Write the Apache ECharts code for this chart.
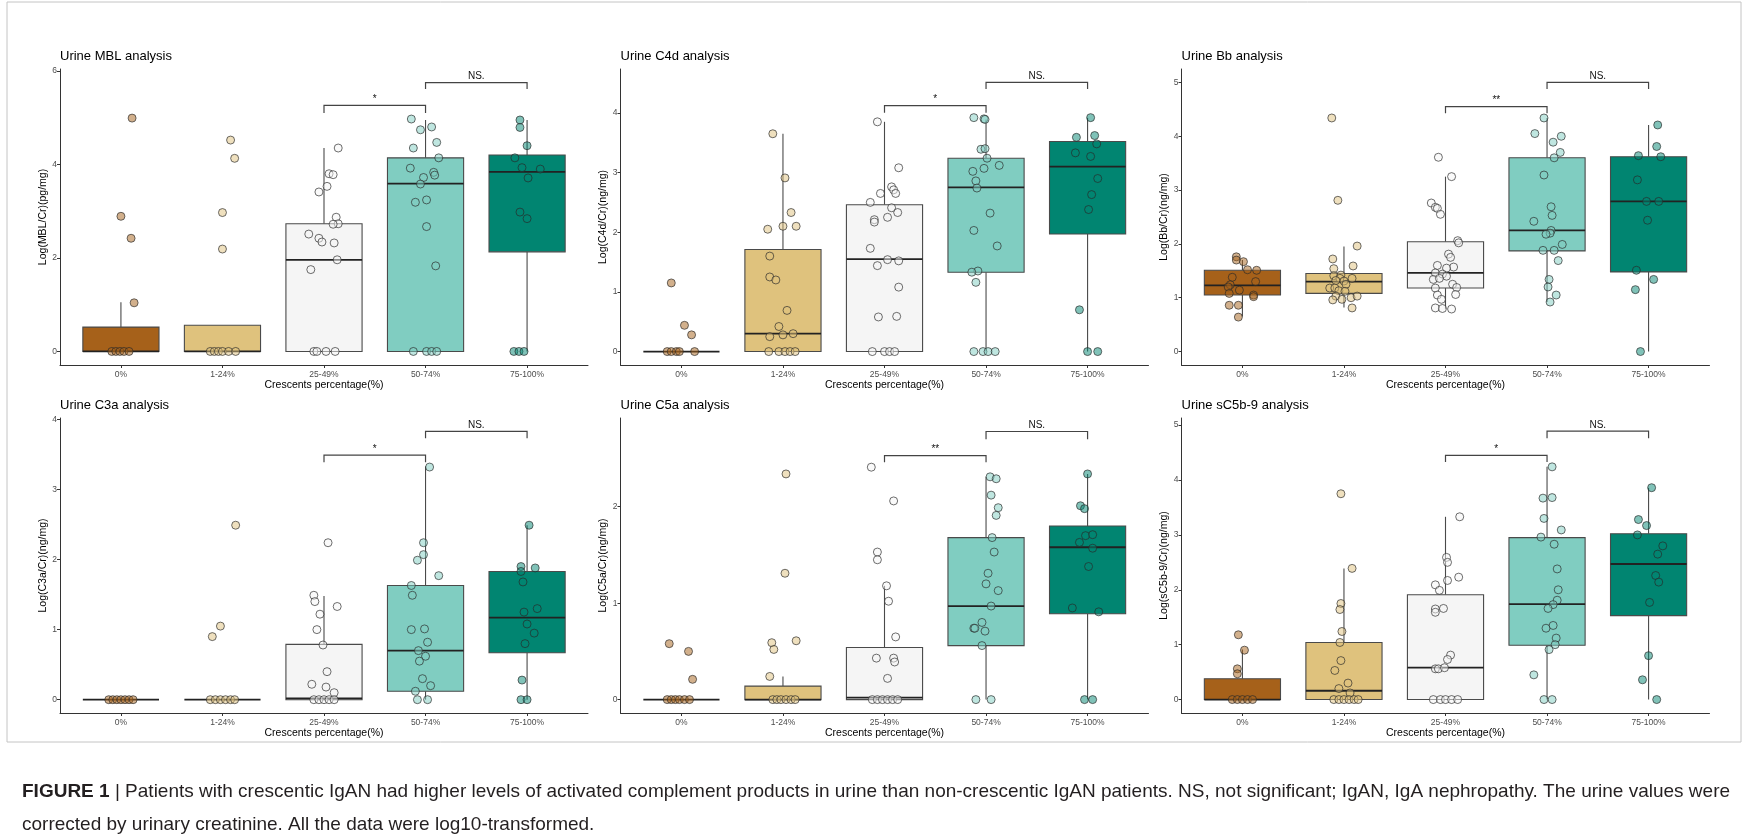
<!DOCTYPE html>
<html>
<head>
<meta charset="utf-8">
<script src="https://cdn.jsdelivr.net/npm/echarts@6/dist/echarts.min.js"></script>
<style>
html,body{margin:0;padding:0;background:#fff;}
#chart{width:1748px;height:838px;}
</style>
</head>
<body>
<div id="chart"></div>
<script>
// ---------------- DATA ----------------
const categories = ['0%', '1-24%', '25-49%', '50-74%', '75-100%'];
const xTitle = 'Crescents percentage(%)';
const titles = ['Urine MBL analysis', 'Urine C4d analysis', 'Urine Bb analysis',
                'Urine C3a analysis', 'Urine C5a analysis', 'Urine sC5b-9 analysis'];
const yNames = ['Log(MBL/Cr)(pg/mg)', 'Log(C4d/Cr)(ng/mg)', 'Log(Bb/Cr)(ng/mg)',
                'Log(C3a/Cr)(ng/mg)', 'Log(C5a/Cr)(ng/mg)', 'Log(sC5b-9/Cr)(ng/mg)'];
const yTicks = [[0, 2, 4, 6], [0, 1, 2, 3, 4], [0, 1, 2, 3, 4, 5],
                [0, 1, 2, 3, 4], [0, 1, 2], [0, 1, 2, 3, 4, 5]];
const yRanges = [[-0.29, 6.04], [-0.225, 4.735], [-0.25, 5.25],
                 [-0.19, 4.02], [-0.139, 2.92], [-0.245, 5.13]];

// box stats per group: [lower whisker, Q1, median, Q3, upper whisker]
const mblBox = [[0, 0, 0, 0.52, 1.05], [0, 0, 0, 0.56, 0.56], [0, 0, 1.96, 2.73, 4.35], [0, 0, 3.59, 4.14, 4.95], [0, 2.13, 3.84, 4.2, 4.95]];
const c4dBox = [[0, 0, 0, 0, 0], [0, 0, 0.30, 1.71, 3.65], [0, 0, 1.55, 2.46, 3.85], [0, 1.33, 2.75, 3.24, 3.89], [0, 1.97, 3.10, 3.52, 3.92]];
const bbBox = [[0.65, 1.05, 1.23, 1.51, 1.70], [0.82, 1.08, 1.30, 1.45, 1.95], [0.79, 1.18, 1.46, 2.04, 3.25], [0.92, 1.87, 2.25, 3.60, 4.34], [0, 1.48, 2.79, 3.62, 4.21]];
const c3aBox = [[0, 0, 0, 0, 0], [0, 0, 0, 0, 0], [0, 0, 0.02, 0.79, 1.48], [0, 0.12, 0.70, 1.63, 3.33], [0, 0.67, 1.17, 1.83, 2.49]];
const c5aBox = [[0, 0, 0, 0, 0], [0, 0, 0, 0.14, 0.24], [0, 0, 0.02, 0.54, 1.18], [0, 0.56, 0.97, 1.68, 2.31], [0, 0.89, 1.58, 1.80, 2.34]];
const sc5b9Box = [[0, 0, 0, 0.38, 0.91], [0, 0, 0.16, 1.04, 2.39], [0, 0, 0.58, 1.91, 3.33], [0, 0.99, 1.74, 2.95, 4.24], [0, 1.53, 2.47, 3.02, 3.86]];

// individual patients: [group index, jitter (in category units), value]
const mblPoints = [
  [0, 0.11, 4.99], [0, 0.0, 2.89], [0, 0.1, 2.42], [0, 0.13, 1.04], [0, -0.09, 0], [0, -0.05, 0], [0, -0.01, 0], [0, 0.03, 0], [0, 0.08, 0],
  [1, 0.08, 4.52], [1, 0.12, 4.13], [1, 0.0, 2.97], [1, 0.0, 2.19], [1, -0.12, 0], [1, -0.08, 0], [1, -0.04, 0], [1, 0.0, 0], [1, 0.06, 0], [1, 0.13, 0],
  [2, 0.14, 4.35], [2, 0.05, 3.80], [2, 0.09, 3.78], [2, 0.03, 3.53], [2, -0.05, 3.41], [2, 0.12, 2.87], [2, 0.14, 2.73], [2, 0.09, 2.72], [2, -0.15, 2.51], [2, -0.05, 2.42], [2, -0.02, 2.34], [2, 0.1, 2.32], [2, 0.13, 1.96], [2, -0.13, 1.75], [2, -0.1, 0], [2, -0.07, 0], [2, 0.02, 0], [2, 0.11, 0],
  [3, -0.14, 4.97], [3, -0.05, 4.74], [3, 0.06, 4.80], [3, 0.11, 4.47], [3, -0.12, 4.35], [3, 0.13, 4.14], [3, -0.15, 3.92], [3, 0.08, 3.83], [3, 0.09, 3.77], [3, -0.02, 3.72], [3, -0.05, 3.58], [3, 0.01, 3.24], [3, -0.1, 3.19], [3, 0.01, 2.67], [3, 0.1, 1.83], [3, -0.12, 0], [3, 0.01, 0], [3, 0.06, 0], [3, 0.11, 0],
  [4, -0.07, 4.95], [4, -0.07, 4.79], [4, 0.0, 4.40], [4, -0.12, 4.14], [4, -0.05, 3.93], [4, 0.13, 3.90], [4, 0.01, 3.71], [4, -0.07, 2.98], [4, 0.0, 2.84], [4, -0.13, 0], [4, -0.08, 0], [4, -0.03, 0]
];
const c4dPoints = [
  [0, -0.1, 1.15], [0, 0.03, 0.44], [0, 0.1, 0.28], [0, -0.14, 0], [0, -0.1, 0], [0, -0.05, 0], [0, -0.02, 0], [0, 0.13, 0],
  [1, -0.1, 3.65], [1, 0.02, 2.91], [1, 0.08, 2.33], [1, 0, 2.10], [1, 0.13, 2.10], [1, -0.15, 2.05], [1, -0.13, 1.6], [1, -0.13, 1.25], [1, -0.07, 1.2], [1, 0.04, 0.69], [1, -0.04, 0.42], [1, -0.13, 0.25], [1, 0, 0.28], [1, 0.1, 0.30], [1, -0.14, 0], [1, -0.04, 0], [1, 0.02, 0], [1, 0.07, 0], [1, 0.12, 0],
  [2, -0.07, 3.85], [2, 0.14, 3.08], [2, -0.04, 2.65], [2, 0.07, 2.76], [2, 0.09, 2.71], [2, 0.11, 2.65], [2, -0.14, 2.5], [2, 0.07, 2.41], [2, 0.13, 2.33], [2, 0.03, 2.25], [2, -0.1, 2.21], [2, -0.1, 2.17], [2, -0.14, 1.73], [2, 0.03, 1.54], [2, 0.14, 1.52], [2, -0.07, 1.44], [2, 0.14, 1.08], [2, -0.06, 0.58], [2, 0.12, 0.59], [2, -0.12, 0], [2, 0, 0], [2, 0.05, 0], [2, 0.1, 0],
  [3, -0.12, 3.92], [3, -0.02, 3.9], [3, -0.01, 3.89], [3, -0.05, 3.39], [3, -0.01, 3.4], [3, 0.01, 3.24], [3, 0.13, 3.12], [3, -0.02, 3.07], [3, -0.13, 3.02], [3, -0.1, 2.86], [3, -0.09, 2.74], [3, 0.04, 2.32], [3, -0.12, 2.03], [3, 0.11, 1.77], [3, -0.08, 1.35], [3, -0.14, 1.33], [3, -0.1, 1.16], [3, -0.12, 0], [3, -0.03, 0], [3, 0.02, 0], [3, 0.09, 0],
  [4, 0.03, 3.92], [4, -0.11, 3.59], [4, 0.07, 3.62], [4, 0.09, 3.48], [4, -0.12, 3.33], [4, 0.03, 3.27], [4, 0.1, 2.90], [4, 0.04, 2.63], [4, 0.01, 2.38], [4, -0.08, 0.70], [4, 0, 0], [4, 0.1, 0]
];
const bbPoints = [
  [0, -0.06, 1.76], [0, -0.06, 1.70], [0, 0.01, 1.67], [0, 0.05, 1.52], [0, 0.14, 1.51], [0, -0.1, 1.38], [0, 0.13, 1.30], [0, -0.12, 1.24], [0, -0.14, 1.20], [0, -0.03, 1.14], [0, -0.13, 1.08], [0, 0.11, 1.05], [0, 0.11, 1.02], [0, -0.13, 0.86], [0, -0.04, 0.86], [0, -0.04, 0.64],
  [1, -0.12, 4.34], [1, -0.06, 2.81], [1, 0.13, 1.96], [1, -0.11, 1.72], [1, 0.09, 1.59], [1, -0.1, 1.54], [1, -0.1, 1.41], [1, -0.03, 1.42], [1, -0.04, 1.36], [1, 0.08, 1.36], [1, -0.08, 1.32], [1, 0, 1.31], [1, 0.02, 1.25], [1, -0.14, 1.18], [1, -0.09, 1.18], [1, -0.05, 1.13], [1, 0.01, 1.12], [1, -0.08, 1.03], [1, 0.07, 1.0], [1, 0.13, 1.03], [1, -0.11, 0.96], [1, -0.02, 0.97], [1, 0.08, 0.81],
  [2, -0.07, 3.61], [2, 0.06, 3.25], [2, -0.14, 2.76], [2, -0.1, 2.68], [2, -0.08, 2.66], [2, -0.05, 2.55], [2, 0.12, 2.06], [2, 0.13, 2.02], [2, 0.03, 1.81], [2, 0.05, 1.75], [2, -0.08, 1.60], [2, 0.08, 1.57], [2, 0.01, 1.55], [2, -0.1, 1.46], [2, -0.03, 1.44], [2, 0.01, 1.40], [2, -0.12, 1.34], [2, -0.06, 1.36], [2, 0.07, 1.25], [2, 0.11, 1.19], [2, -0.1, 1.18], [2, 0.1, 1.06], [2, -0.08, 1.05], [2, -0.04, 0.97], [2, -0.1, 0.81], [2, -0.03, 0.80], [2, 0.06, 0.79],
  [3, -0.03, 4.34], [3, -0.12, 4.05], [3, 0.14, 4.0], [3, 0.06, 3.89], [3, 0.13, 3.70], [3, 0.07, 3.60], [3, -0.03, 3.28], [3, 0.04, 2.69], [3, 0.05, 2.53], [3, -0.13, 2.42], [3, 0.04, 2.25], [3, 0.03, 2.2], [3, -0.01, 2.18], [3, 0.15, 1.99], [3, -0.04, 1.88], [3, 0.07, 1.88], [3, 0.11, 1.69], [3, 0.02, 1.34], [3, 0.01, 1.20], [3, 0.09, 1.05], [3, 0.03, 0.92],
  [4, 0.09, 4.21], [4, 0.08, 3.81], [4, -0.1, 3.64], [4, 0.12, 3.62], [4, -0.11, 3.19], [4, -0.02, 2.79], [4, 0.1, 2.79], [4, -0.01, 2.44], [4, -0.12, 1.51], [4, 0.05, 1.34], [4, -0.13, 1.15], [4, -0.08, 0]
];
const c3aPoints = [
  [0, -0.12, 0], [0, -0.08, 0], [0, -0.04, 0], [0, 0.0, 0], [0, 0.04, 0], [0, 0.08, 0], [0, 0.12, 0],
  [1, 0.13, 2.49], [1, -0.02, 1.05], [1, -0.1, 0.9], [1, -0.12, 0], [1, -0.07, 0], [1, -0.02, 0], [1, 0.03, 0], [1, 0.08, 0], [1, 0.12, 0],
  [2, 0.04, 2.24], [2, -0.1, 1.49], [2, -0.09, 1.40], [2, 0.13, 1.33], [2, -0.04, 1.22], [2, -0.07, 1.0], [2, -0.01, 0.78], [2, 0.03, 0.4], [2, -0.12, 0.22], [2, 0.02, 0.18], [2, 0.1, 0.1], [2, -0.1, 0], [2, -0.05, 0], [2, 0, 0], [2, 0.05, 0], [2, 0.1, 0],
  [3, 0.04, 3.32], [3, -0.02, 2.24], [3, -0.02, 2.07], [3, -0.08, 1.99], [3, 0.13, 1.77], [3, -0.14, 1.63], [3, -0.13, 1.49], [3, -0.14, 1.0], [3, -0.01, 1.01], [3, 0.02, 0.82], [3, -0.07, 0.70], [3, 0.0, 0.62], [3, -0.06, 0.55], [3, -0.03, 0.30], [3, 0.05, 0.2], [3, -0.1, 0.12], [3, -0.08, 0], [3, 0.02, 0],
  [4, 0.02, 2.49], [4, -0.06, 1.9], [4, 0.08, 1.88], [4, -0.06, 1.83], [4, -0.04, 1.68], [4, 0.1, 1.3], [4, -0.03, 1.25], [4, 0, 1.08], [4, 0.07, 0.95], [4, -0.02, 0.8], [4, -0.05, 0.28], [4, -0.06, 0], [4, 0.0, 0]
];
const c5aPoints = [
  [0, -0.12, 0.58], [0, 0.07, 0.50], [0, 0.11, 0.21], [0, -0.14, 0], [0, -0.1, 0], [0, -0.06, 0], [0, -0.02, 0], [0, 0.03, 0], [0, 0.08, 0],
  [1, 0.03, 2.34], [1, 0.02, 1.31], [1, -0.11, 0.59], [1, 0.13, 0.61], [1, -0.09, 0.52], [1, -0.13, 0.24], [1, -0.1, 0], [1, -0.06, 0], [1, -0.02, 0], [1, 0.03, 0], [1, 0.08, 0], [1, 0.12, 0],
  [2, -0.13, 2.41], [2, 0.09, 2.06], [2, -0.07, 1.53], [2, -0.07, 1.45], [2, 0.02, 1.18], [2, 0.04, 1.02], [2, 0.11, 0.65], [2, -0.08, 0.43], [2, 0.09, 0.43], [2, 0.1, 0.39], [2, 0.03, 0.22], [2, -0.12, 0], [2, -0.07, 0], [2, -0.02, 0], [2, 0.03, 0], [2, 0.08, 0], [2, 0.13, 0],
  [3, 0.04, 2.31], [3, 0.1, 2.29], [3, 0.05, 2.12], [3, 0.12, 1.99], [3, 0.1, 1.91], [3, 0.06, 1.68], [3, 0.08, 1.53], [3, 0.02, 1.31], [3, 0, 1.2], [3, 0.12, 1.13], [3, 0.05, 0.97], [3, -0.04, 0.80], [3, -0.12, 0.74], [3, -0.11, 0.74], [3, -0.01, 0.71], [3, -0.04, 0.56], [3, -0.1, 0], [3, 0.05, 0],
  [4, 0, 2.34], [4, -0.07, 2.01], [4, -0.03, 1.98], [4, -0.02, 1.70], [4, 0.05, 1.71], [4, -0.08, 1.63], [4, 0.05, 1.57], [4, 0.01, 1.38], [4, -0.15, 0.95], [4, 0.11, 0.91], [4, -0.03, 0], [4, 0.05, 0]
];
const sc5b9Points = [
  [0, -0.04, 1.18], [0, 0.02, 0.9], [0, -0.05, 0.56], [0, -0.05, 0.47], [0, -0.1, 0], [0, -0.05, 0], [0, 0.0, 0], [0, 0.05, 0], [0, 0.1, 0],
  [1, -0.03, 3.75], [1, 0.08, 2.39], [1, -0.03, 1.75], [1, -0.04, 1.64], [1, -0.02, 1.24], [1, -0.04, 1.04], [1, -0.03, 0.71], [1, -0.09, 0.53], [1, 0.04, 0.3], [1, -0.05, 0.2], [1, 0.06, 0.12], [1, -0.1, 0], [1, -0.05, 0], [1, 0, 0], [1, 0.05, 0], [1, 0.1, 0], [1, 0.14, 0],
  [2, 0.14, 3.33], [2, 0.01, 2.59], [2, 0.02, 2.5], [2, 0.13, 2.23], [2, 0.02, 2.17], [2, -0.1, 2.09], [2, -0.06, 1.99], [2, -0.02, 1.66], [2, -0.1, 1.65], [2, -0.1, 1.59], [2, 0.05, 0.81], [2, 0.02, 0.73], [2, -0.1, 0.56], [2, -0.07, 0.56], [2, -0.01, 0.58], [2, -0.12, 0], [2, -0.05, 0], [2, 0.0, 0], [2, 0.06, 0], [2, 0.12, 0],
  [3, 0.05, 4.24], [3, -0.04, 3.67], [3, 0.05, 3.68], [3, -0.03, 3.3], [3, 0.14, 3.09], [3, -0.06, 2.96], [3, 0.07, 2.83], [3, 0.1, 2.38], [3, 0.11, 2.0], [3, 0.1, 1.81], [3, 0.06, 1.73], [3, 0.01, 1.66], [3, -0.01, 1.30], [3, 0.06, 1.35], [3, 0.09, 1.12], [3, 0.08, 1.0], [3, 0.02, 0.91], [3, -0.13, 0.45], [3, -0.03, 0], [3, 0.05, 0],
  [4, 0.03, 3.86], [4, -0.1, 3.28], [4, -0.02, 3.17], [4, -0.11, 3.0], [4, 0.14, 2.8], [4, 0.09, 2.65], [4, 0.07, 2.26], [4, 0.1, 2.14], [4, 0.01, 1.77], [4, 0, 0.80], [4, -0.06, 0.36], [4, 0.08, 0]
];

// significance brackets: [from group, to group, bracket height, tick end, label]
const mblSig = [[2, 3, 5.26, 5.10, '*'], [3, 4, 5.75, 5.61, 'NS.']];
const c4dSig = [[2, 3, 4.12, 4.00, '*'], [3, 4, 4.51, 4.40, 'NS.']];
const bbSig = [[2, 3, 4.55, 4.43, '**'], [3, 4, 5.00, 4.88, 'NS.']];
const c3aSig = [[2, 3, 3.49, 3.39, '*'], [3, 4, 3.83, 3.73, 'NS.']];
const c5aSig = [[2, 3, 2.53, 2.46, '**'], [3, 4, 2.78, 2.70, 'NS.']];
const sc5b9Sig = [[2, 3, 4.45, 4.33, '*'], [3, 4, 4.89, 4.76, 'NS.']];

const captionLine1 = 'Patients with crescentic IgAN had higher levels of activated complement products in urine than non-crescentic IgAN patients. NS, not significant; IgAN, IgA nephropathy. The urine values were';
const captionLine2 = 'corrected by urinary creatinine. All the data were log10-transformed.';

// ---------------- STYLE / LAYOUT ----------------
const boxFill = ['#a6611a', '#dfc27d', '#f5f5f5', '#80cdc1', '#018571'];
function hexToRgba(h, a) {
  const n = parseInt(h.slice(1), 16);
  return 'rgba(' + ((n >> 16) & 255) + ',' + ((n >> 8) & 255) + ',' + (n & 255) + ',' + a + ')';
}
const ptFill = boxFill.map(c => hexToRgba(c, 0.5));
const FONT = '"Liberation Sans", Arial, sans-serif';

const boxes = [mblBox, c4dBox, bbBox, c3aBox, c5aBox, sc5b9Box];
const points = [mblPoints, c4dPoints, bbPoints, c3aPoints, c5aPoints, sc5b9Points];
const sigs = [mblSig, c4dSig, bbSig, c3aSig, c5aSig, sc5b9Sig];

const lefts = [60, 620.5, 1181.5];
const tops = [69, 418];
const heights = [296, 295];
const W = 528;

const grid = [], xAxis = [], yAxis = [], series = [], title = [];
for (let p = 0; p < 6; p++) {
  const row = Math.floor(p / 3), col = p % 3;
  grid.push({left: lefts[col], top: tops[row], width: W, height: heights[row], containLabel: false});
  title.push({
    text: titles[p], left: lefts[col], top: tops[row] - 19,
    textStyle: {fontFamily: FONT, fontSize: 13, fontWeight: 'normal', color: '#000'}, padding: 0
  });
  xAxis.push({
    type: 'value', gridIndex: p, min: 0.4, max: 5.6,
    name: xTitle, nameLocation: 'middle', nameGap: 15,
    nameTextStyle: {fontFamily: FONT, fontSize: 10.5, color: '#000'},
    axisLine: {show: true, onZero: false, lineStyle: {color: '#333', width: 1}},
    axisTick: {show: true, customValues: [1, 2, 3, 4, 5], length: 3, lineStyle: {color: '#333'}},
    axisLabel: {show: true, customValues: [1, 2, 3, 4, 5], formatter: v => categories[Math.round(v) - 1],
                fontFamily: FONT, fontSize: 8.5, color: '#4d4d4d', margin: 5},
    splitLine: {show: false}
  });
  yAxis.push({
    type: 'value', gridIndex: p, min: yRanges[p][0], max: yRanges[p][1],
    name: yNames[p], nameLocation: 'middle', nameGap: 10,
    nameTextStyle: {fontFamily: FONT, fontSize: 10.5, color: '#000'},
    axisLine: {show: true, onZero: false, lineStyle: {color: '#333', width: 1}},
    axisTick: {show: true, customValues: yTicks[p], length: 3, lineStyle: {color: '#333'}},
    axisLabel: {show: true, customValues: yTicks[p], fontFamily: FONT, fontSize: 8.5, color: '#4d4d4d', margin: 3},
    splitLine: {show: false}
  });

  const boxData = boxes[p].map((b, g) => [g + 1].concat(b));
  series.push({
    type: 'custom', xAxisIndex: p, yAxisIndex: p, data: boxData, z: 2, silent: true,
    renderItem: function (params, api) {
      const x = api.value(0);
      const lo = api.value(1), q1 = api.value(2), med = api.value(3), q3 = api.value(4), hi = api.value(5);
      const w = api.size([0.75, 0])[0];
      const pLo = api.coord([x, lo]), pQ1 = api.coord([x, q1]), pMed = api.coord([x, med]),
            pQ3 = api.coord([x, q3]), pHi = api.coord([x, hi]);
      const cx = pMed[0];
      const ch = [];
      const st = {stroke: '#4a4a4a', lineWidth: 1.1};
      if (hi > q3) ch.push({type: 'line', shape: {x1: cx, y1: pQ3[1], x2: cx, y2: pHi[1]}, style: st});
      if (lo < q1) ch.push({type: 'line', shape: {x1: cx, y1: pQ1[1], x2: cx, y2: pLo[1]}, style: st});
      if (q3 > q1) ch.push({type: 'rect', shape: {x: cx - w / 2, y: pQ3[1], width: w, height: pQ1[1] - pQ3[1]},
                            style: {fill: boxFill[params.dataIndex], stroke: '#4a4a4a', lineWidth: 1.1}});
      ch.push({type: 'line', shape: {x1: cx - w / 2, y1: pMed[1], x2: cx + w / 2, y2: pMed[1]},
               style: {stroke: '#222', lineWidth: 1.8}});
      return {type: 'group', children: ch};
    }
  });

  const ptData = points[p].map(d => [d[0] + 1 + d[1], d[2], d[0]]);
  series.push({
    type: 'scatter', xAxisIndex: p, yAxisIndex: p, data: ptData, z: 3, silent: true,
    symbol: 'circle', symbolSize: 8,
    itemStyle: {
      color: params => ptFill[params.data[2]],
      borderColor: 'rgba(40,40,40,0.75)', borderWidth: 0.9, opacity: 1
    }
  });

  const sigData = sigs[p].map(s => [s[0] + 1, s[1] + 1, s[2], s[3]]);
  const sigLabels = sigs[p].map(s => s[4]);
  series.push({
    type: 'custom', xAxisIndex: p, yAxisIndex: p, data: sigData, z: 4, silent: true, clip: false,
    renderItem: function (params, api) {
      const a = api.coord([api.value(0), api.value(2)]);
      const b = api.coord([api.value(1), api.value(2)]);
      const aE = api.coord([api.value(0), api.value(3)]);
      const lab = sigLabels[params.dataIndex];
      return {
        type: 'group', children: [
          {type: 'polyline', shape: {points: [[a[0], aE[1]], [a[0], a[1]], [b[0], b[1]], [b[0], aE[1]]]},
           style: {stroke: '#444', lineWidth: 1.2, fill: null}},
          {type: 'text', x: (a[0] + b[0]) / 2, y: a[1] - 1,
           style: {text: lab, fontFamily: FONT, fontSize: 10, fill: '#111',
                   align: 'center', verticalAlign: 'bottom'}}
        ]
      };
    }
  });
}

const option = {
  animation: false,
  backgroundColor: '#fff',
  title: title,
  grid: grid,
  xAxis: xAxis,
  yAxis: yAxis,
  series: series,
  graphic: [
    {type: 'rect', shape: {x: 7, y: 2, width: 1734, height: 740}, style: {fill: null, stroke: '#c4c4c4', lineWidth: 1}, z: -1},
    {type: 'text', left: 22, top: 782,
     style: {text: '{b|FIGURE 1} | ' + captionLine1, rich: {b: {fontWeight: 'bold', fontFamily: FONT, fontSize: 19, fill: '#231f20'}},
             fontFamily: FONT, fontSize: 19, fill: '#231f20'}},
    {type: 'text', left: 22, top: 815,
     style: {text: captionLine2, fontFamily: FONT, fontSize: 19, fill: '#231f20'}}
  ]
};

const chart = echarts.init(document.getElementById('chart'), null, {renderer: 'canvas'});
chart.setOption(option);
</script>
</body>
</html>
